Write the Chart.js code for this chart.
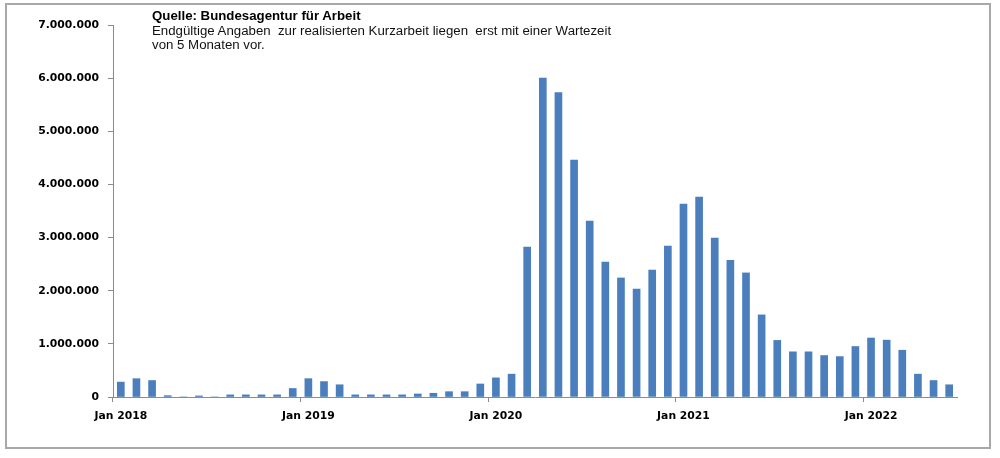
<!DOCTYPE html>
<html>
<head>
<meta charset="utf-8">
<script src="https://cdn.jsdelivr.net/npm/chart.js@4/dist/chart.umd.min.js"></script>
<style>
  body { margin: 0; background: #fff; }
  .wrap { position: relative; width: 1000px; height: 458px; }
  .frame { position: absolute; left: 5px; top: 3px; width: 982px; height: 442px; border: 2px solid #a8a8a8; }
  .note { position: absolute; left: 152px; font-family: "Liberation Sans", Arial, sans-serif; font-size: 13.25px; line-height: 14.5px; color: #111; white-space: pre; }
  .note.head { font-weight: bold; color: #000; }
</style>
</head>
<body>
<div class="wrap">
  <div class="frame"></div>
  <canvas id="kurzarbeit" width="1000" height="458"></canvas>
  <div class="note head" style="top:9px">Quelle: Bundesagentur für Arbeit</div>
  <div class="note" style="top:23.5px">Endgültige Angaben  zur realisierten Kurzarbeit liegen  erst mit einer Wartezeit</div>
  <div class="note" style="top:38px">von 5 Monaten vor.</div>
</div>
<script>
// Monate Jan 2018 - Jun 2022
const years = [2018, 2019, 2020, 2021, 2022];
const monthNames = ['Jan','Feb','Mrz','Apr','Mai','Jun','Jul','Aug','Sep','Okt','Nov','Dez'];
const months = [];
years.forEach(y => monthNames.forEach(m => months.push(m + ' ' + y)));
months.length = 54;

// Kurzarbeiter (realisiert); Mai/Jul 2018 im Bild nicht sichtbar
const werte2018 = [280000, 345000, 310000, 25000, 0, 20000, 0, 40000, 40000, 40000, 40000, 160000];
const werte2019 = [345000, 290000, 230000, 40000, 40000, 40000, 40000, 57000, 70000, 100000, 100000, 245000];
const werte2020 = [360000, 430000, 2820000, 6000000, 5730000, 4460000, 3310000, 2540000, 2240000, 2030000, 2390000, 2840000];
const werte2021 = [3630000, 3760000, 2990000, 2570000, 2335000, 1545000, 1065000, 850000, 850000, 780000, 760000, 950000];
const werte2022 = [1110000, 1070000, 880000, 430000, 310000, 230000];
const werte = [...werte2018, ...werte2019, ...werte2020, ...werte2021, ...werte2022];

const yTicks = [0, 1000000, 2000000, 3000000, 4000000, 5000000, 6000000, 7000000];

// 7000000 -> 7.000.000
const fmt = v => String(v).replace(/\B(?=(\d{3})+(?!\d))/g, '.');

const tickFont = { family: 'DejaVu Sans', size: 10.8, weight: 'bold' };

new Chart(document.getElementById('kurzarbeit'), {
  type: 'bar',
  data: {
    labels: months,
    datasets: [{
      data: werte,
      backgroundColor: '#4A7EBD',
      borderWidth: 0,
      barThickness: 7
    }]
  },
  options: {
    responsive: false,
    animation: false,
    layout: { padding: { left: 0, right: 43, top: 25, bottom: 0 } },
    plugins: { legend: { display: false }, tooltip: { enabled: false } },
    scales: {
      x: {
        offset: true,
        afterFit: s => { s.height = 61; },
        grid: {
          offset: true,
          drawOnChartArea: false,
          tickLength: 5,
          tickColor: ctx => (ctx.index % 12 === 0 ? '#8c8c8c' : 'rgba(0,0,0,0)')
        },
        border: { color: '#8c8c8c', width: 1 },
        ticks: {
          autoSkip: false,
          maxRotation: 0,
          padding: 8,
          color: '#000',
          font: tickFont,
          callback: (v, i) => (i % 12 === 0 ? months[i] : '')
        }
      },
      y: {
        min: 0,
        max: 7000000,
        afterFit: s => { s.width = 113; },
        afterBuildTicks: s => { s.ticks = yTicks.map(v => ({ value: v })); },
        grid: { drawOnChartArea: false, tickLength: 5, tickColor: '#8c8c8c' },
        border: { color: '#8c8c8c', width: 1 },
        ticks: { padding: 9, color: '#000', font: tickFont, callback: v => fmt(v) }
      }
    }
  }
});
</script>
</body>
</html>
